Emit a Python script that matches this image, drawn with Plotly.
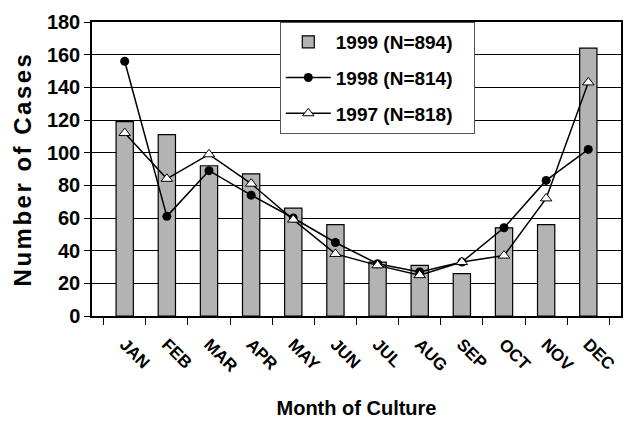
import plotly.graph_objects as go

months = ["JAN", "FEB", "MAR", "APR", "MAY", "JUN", "JUL", "AUG", "SEP", "OCT", "NOV", "DEC"]
cases_1999 = [119, 111, 92, 87, 66, 56, 33, 31, 26, 54, 56, 164]
cases_1998 = [156, 61, 89, 74, 60, 45, 32, 27, 33, 54, 83, 102]
cases_1997 = [112, 84, 99, 81, 59, 38, 31, 25, 33, 37, 72, 143]

FONT = "Liberation Sans, Arial, sans-serif"
PAD = "\u00a0\u00a0\u00a0"

fig = go.Figure()
fig.add_trace(go.Bar(
    x=months, y=cases_1999, name="<b>1999 (N=894)</b>" + PAD, legendgroup="a",
    marker=dict(color="#b3b3b3", line=dict(color="black", width=1.2)),
    width=0.41,
))
fig.add_trace(go.Scatter(
    x=months, y=cases_1998, name="<b>1998 (N=814)</b>" + PAD, mode="lines+markers", legendgroup="b",
    line=dict(color="black", width=1.5),
    marker=dict(symbol="circle", size=9, color="black"),
))
fig.add_trace(go.Scatter(
    x=months, y=cases_1997, name="<b>1997 (N=818)</b>" + PAD, mode="lines+markers", legendgroup="c",
    line=dict(color="black", width=1.5),
    marker=dict(symbol="triangle-up", size=10, color="white", line=dict(color="black", width=1)),
))

fig.update_layout(
    width=627, height=413,
    margin=dict(l=84, r=14, t=14, b=105, autoexpand=False),
    paper_bgcolor="white", plot_bgcolor="white",
    font=dict(family=FONT, color="black"),
    showlegend=True,
    legend=dict(
        x=0.355, y=1, xanchor="left", yanchor="top",
        bgcolor="white", bordercolor="#555555", borderwidth=1,
        font=dict(size=19, family=FONT, color="black"),
        tracegroupgap=8, itemwidth=45,
    ),
    xaxis=dict(
        type="category",
        tickangle=45,
        tickfont=dict(size=17, family=FONT, color="black", weight="bold"),
        ticks="outside", tickson="boundaries", ticklen=7, tickcolor="black",
        ticklabelstandoff=10,
        showline=True, linecolor="black", linewidth=1.5, mirror=True,
        showgrid=False,
        title=dict(text="<b>Month of Culture</b>", font=dict(size=20, family=FONT), standoff=26),
    ),
    yaxis=dict(
        range=[0, 180], dtick=20,
        tickfont=dict(size=20, family=FONT, color="black", weight="bold"),
        ticks="outside", ticklen=6, tickcolor="black",
        showline=True, linecolor="black", linewidth=1.5, mirror=True,
        showgrid=True, gridcolor="black", gridwidth=1,
        zeroline=False,
        title=dict(text='<b><span style="letter-spacing:2.5px">Number of Cases</span></b>',
                   font=dict(size=24, family=FONT), standoff=8),
    ),
    bargap=0.59,
)

fig.write_html("out.html")
